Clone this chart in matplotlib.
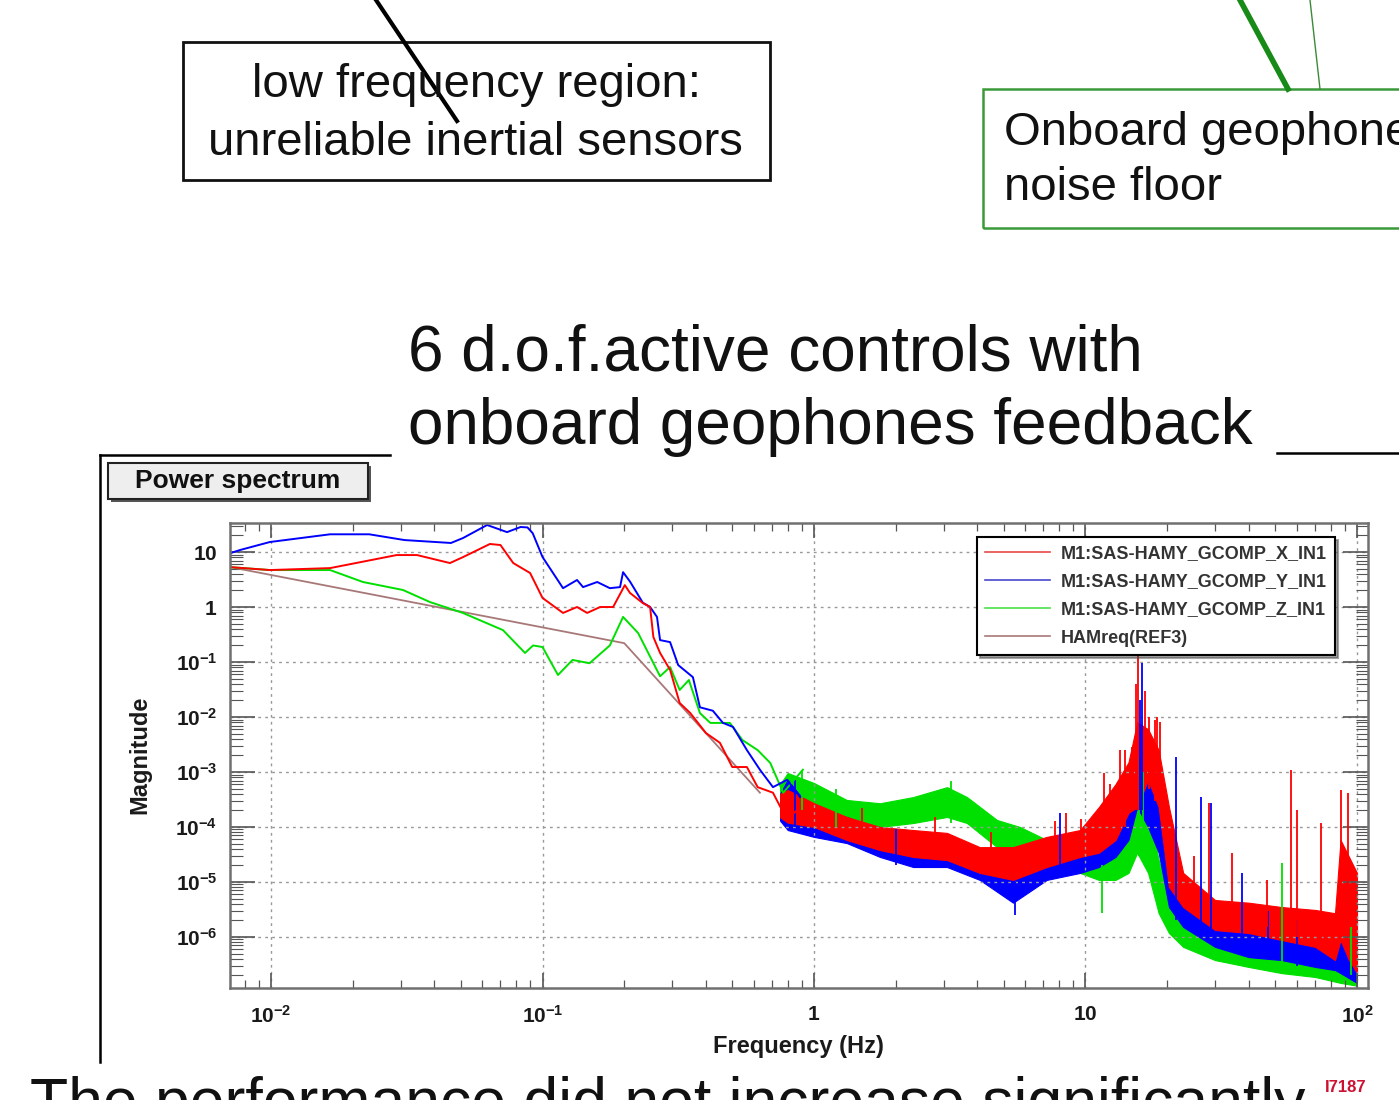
import matplotlib
matplotlib.use("Agg")
import matplotlib.pyplot as plt
from matplotlib.lines import Line2D
from matplotlib.patches import Rectangle

plt.rcParams['font.family'] = ['Liberation Sans', 'DejaVu Sans']
plt.rcParams['mathtext.fontset'] = 'custom'
plt.rcParams['mathtext.rm'] = 'Liberation Sans:bold'
plt.rcParams['mathtext.it'] = 'Liberation Sans:bold:italic'
plt.rcParams['mathtext.bf'] = 'Liberation Sans:bold'

W, H = 1399, 1100

#series names, as in the legend
series_labels = ["M1:SAS-HAMY_GCOMP_X_IN1", "M1:SAS-HAMY_GCOMP_Y_IN1",
                 "M1:SAS-HAMY_GCOMP_Z_IN1", "HAMreq(REF3)"]

#low frequency part (smooth lines), X = red
x_low_f = [0.0071, 0.0099, 0.0165, 0.029, 0.0345, 0.0456, 0.051, 0.064, 0.070, 0.078,
           0.090, 0.100, 0.119, 0.134, 0.146, 0.163, 0.182, 0.201, 0.210, 0.234,
           0.249, 0.256, 0.271, 0.295, 0.32, 0.35, 0.40, 0.45, 0.50, 0.566,
           0.62, 0.706, 0.796, 0.888]
x_low_m = [5.3, 4.7, 5.1, 8.8, 8.8, 6.3, 8.1, 14, 13.4, 6.3,
           4.15, 1.46, 0.78, 1.0, 0.78, 1.0, 1.0, 2.5, 1.8, 1.18,
           1.0, 0.285, 0.146, 0.072, 0.018, 0.0118, 0.0051, 0.0034, 0.00123, 0.00123,
           5.3e-4, 4.2e-4, 1.34e-4, 2.3e-4]

#Y = blue
y_low_f = [0.0071, 0.0077, 0.0099, 0.0165, 0.023, 0.031, 0.046, 0.051, 0.0625, 0.074,
           0.083, 0.088, 0.092, 0.100, 0.119, 0.134, 0.141, 0.159, 0.177, 0.193,
           0.198, 0.210, 0.234, 0.249, 0.264, 0.271, 0.295, 0.316, 0.358, 0.380,
           0.424, 0.462, 0.503, 0.566, 0.632, 0.706, 0.796, 0.888]
y_low_m = [9.6, 10.9, 15.2, 21, 21, 16.5, 14.6, 18, 31, 23,
           28.5, 28, 22, 8.1, 2.2, 3.1, 2.3, 2.85, 2.2, 2.3,
           4.3, 2.9, 1.2, 1.0, 0.66, 0.25, 0.23, 0.088, 0.053, 0.015,
           0.013, 0.0078, 0.0066, 0.0025, 0.0011, 5.3e-4, 7.2e-4, 3.5e-4]

#Z = green
z_low_f = [0.0071, 0.0099, 0.0165, 0.0218, 0.0306, 0.0385, 0.0509, 0.0715, 0.0862, 0.0923,
           0.100, 0.114, 0.129, 0.149, 0.177, 0.198, 0.225, 0.271, 0.295, 0.32,
           0.346, 0.38, 0.415, 0.49, 0.545, 0.62, 0.69, 0.77, 0.91]
z_low_m = [5.3, 4.7, 4.7, 2.85, 2.04, 1.23, 0.78, 0.38, 0.146, 0.2,
           0.187, 0.058, 0.109, 0.095, 0.2, 0.66, 0.336, 0.055, 0.081, 0.031,
           0.047, 0.0118, 0.0078, 0.0078, 0.0038, 0.0025, 0.00146, 4.2e-4, 1.1e-3]

#requirement curve
ref_f = [0.0071, 0.2, 0.632]
ref_m = [5.3, 0.22, 4.2e-4]

#high frequency noise bands (lower / upper envelope)
x_band_f = [0.75, 0.8, 1.0, 1.32, 1.75, 2.32, 3.09, 4.08, 5.41, 7.2,
            9.55, 11.2, 12.9, 14.4, 15.5, 17.0, 18.6, 20.3, 22.9, 30,
            39.9, 52.8, 70.2, 83, 87, 93, 100]
x_band_hi = [4e-4, 4.7e-4, 2.7e-4, 1.52e-4, 1e-4, 8.8e-5, 7.8e-5, 4.3e-5, 4.3e-5, 6.6e-5,
             8.8e-5, 2.3e-4, 6e-4, 1.5e-3, 8e-3, 6e-3, 2.5e-3, 2.3e-4, 1.46e-5, 4.7e-6,
             4.2e-6, 3.5e-6, 3.1e-6, 2.7e-6, 5.8e-5, 3e-5, 1.46e-5]
x_band_lo = [1.5e-4, 1.2e-4, 1e-4, 5.8e-5, 3.8e-5, 2.85e-5, 2.5e-5, 1.46e-5, 1.09e-5, 1.87e-5,
             2.85e-5, 3.4e-5, 5.8e-5, 1.8e-4, 2.3e-4, 7.2e-4, 2.3e-4, 8.1e-6, 3.5e-6, 1.34e-6,
             1.18e-6, 8.8e-7, 6.6e-7, 3.8e-7, 8.8e-7, 4e-7, 2.2e-7]

y_band_f = [0.75, 0.8, 1.0, 1.32, 1.75, 2.32, 3.09, 4.08, 5.41, 7.2,
            9.55, 11.2, 12.9, 14.4, 15.5, 17.0, 18.6, 20.3, 22.9, 30,
            39.9, 52.8, 70.2, 83, 87, 100]
y_band_hi = [4e-4, 7.2e-4, 1.8e-4, 1.52e-4, 8.8e-5, 6.6e-5, 5.8e-5, 3.4e-5, 1.87e-5, 3.4e-5,
             4.3e-5, 5.8e-5, 1e-4, 7.2e-4, 3.8e-3, 9.6e-4, 3.1e-4, 5.8e-5, 4.7e-6, 1.8e-6,
             1.34e-6, 1.18e-6, 1.18e-6, 1.5e-6, 3.5e-6, 2.7e-6]
y_band_lo = [1.3e-4, 8.8e-5, 6.6e-5, 5.1e-5, 2.85e-5, 1.87e-5, 1.87e-5, 1.09e-5, 4.2e-6, 1.09e-5,
             1.46e-5, 1.87e-5, 2.85e-5, 5.8e-5, 2.3e-4, 1e-4, 3.4e-5, 3.5e-6, 1.52e-6, 6.6e-7,
             4.3e-7, 3.8e-7, 2.85e-7, 2.5e-7, 2.2e-7, 1.46e-7]

z_band_f = [0.75, 0.8, 1.0, 1.32, 1.75, 2.32, 3.09, 3.66, 4.72, 5.74,
            7.2, 9.55, 11.2, 12.9, 14.4, 15.5, 17.0, 18.6, 20.3, 22.9,
            30, 39.9, 52.8, 70.2, 87, 100]
z_band_hi = [6e-4, 9.6e-4, 6.3e-4, 3.1e-4, 2.7e-4, 3.5e-4, 5.3e-4, 3.5e-4, 1.34e-4, 1e-4,
             5.8e-5, 3.8e-5, 4.3e-5, 6.6e-5, 2.3e-4, 1e-3, 2.3e-4, 2.5e-5, 6.3e-6, 2e-6,
             1.18e-6, 7.8e-7, 5.8e-7, 5.1e-7, 8.8e-7, 6e-7]
z_band_lo = [2e-4, 2.3e-4, 1.52e-4, 1.18e-4, 1e-4, 1.18e-4, 1.52e-4, 1.18e-4, 4.3e-5, 3.8e-5,
             2.2e-5, 1.46e-5, 1.09e-5, 1.09e-5, 1.46e-5, 3.4e-5, 1.46e-5, 2.7e-6, 1.18e-6, 6.6e-7,
             3.8e-7, 2.85e-7, 2.2e-7, 1.87e-7, 1.46e-7, 1.3e-7]

#narrow lines sticking out of the bands
x_spk_f = [1.5, 2.8, 4.5, 7.7, 8.5, 9.6, 11.7, 12.3, 13.4, 14.0,
           14.8, 15.0, 15.3, 15.6, 16.5, 17.2, 18.0, 18.3, 18.8, 25.0,
           28.5, 34.6, 46.5, 57.0, 60.2, 73.6, 87.5, 92.7]
x_spk_lo = [6e-5, 3e-5, 2e-5, 2e-5, 2.5e-5, 3e-5, 4e-5, 5e-5, 8e-5, 1e-4,
            2e-4, 2e-4, 2e-4, 2e-4, 5e-4, 5e-4, 3e-4, 3e-4, 2e-4, 5e-6,
            3e-6, 2e-6, 1.5e-6, 1e-6, 1e-6, 8e-7, 1e-6, 1e-6]
x_spk_hi = [2.2e-4, 1.5e-4, 8e-5, 1.3e-4, 1.8e-4, 1.4e-4, 9.6e-4, 6e-4, 2.5e-3, 2.5e-3,
            2.9e-3, 2.7e-3, 0.04, 0.2, 0.03, 0.01, 9e-3, 0.01, 8e-3, 3e-5,
            2.7e-4, 3.4e-5, 1.09e-5, 1.09e-3, 2e-4, 1.18e-4, 4.7e-4, 4.2e-4]

y_spk_f = [0.85, 2.0, 5.5, 8.05, 15.9, 16.2, 21.6, 26.7, 29.0, 37.7, 47.0, 60.0]
y_spk_lo = [1e-4, 2e-5, 2.5e-6, 2e-5, 2e-4, 2e-4, 2e-6, 1e-6, 1e-6, 5e-7, 4e-7, 3e-7]
y_spk_hi = [7.2e-4, 9e-5, 1e-5, 1.8e-4, 0.02, 0.095, 1.87e-3, 3.5e-4, 2.7e-4, 1.46e-5, 3e-6, 2e-6]

z_spk_f = [0.9, 1.2, 3.2, 11.5, 15.8, 16.3, 52.8, 95]
z_spk_lo = [2e-4, 1e-4, 1.2e-4, 2.7e-6, 3e-5, 3e-5, 3e-7, 2e-7]
z_spk_hi = [1.09e-3, 5e-4, 7e-4, 2e-5, 1.87e-3, 1e-3, 2.2e-5, 1.5e-6]

x_ticks = [1e-2, 1e-1, 1, 10, 100]
x_tick_labels = [r'$10^{-2}$', r'$10^{-1}$', r'$1$', r'$10$', r'$10^{2}$']
y_ticks = [1e-6, 1e-5, 1e-4, 1e-3, 1e-2, 1e-1, 1, 10]
y_tick_labels = [r'$10^{-6}$', r'$10^{-5}$', r'$10^{-4}$', r'$10^{-3}$', r'$10^{-2}$',
                 r'$10^{-1}$', r'$1$', r'$10$']

RED = '#ff0000'
BLUE = '#0000ff'
GREEN = '#00e000'
BROWN = '#a87878'


#pixel -> figure fraction
def fx(x):
    return x / W

def fy(y):
    return 1 - y / H


fig = plt.figure(figsize=(W / 100, H / 100), dpi=100)
fig.patch.set_facecolor('white')

#---- slide decorations ----
fig.add_artist(Line2D([fx(376), fx(457)], [fy(0), fy(121)], color='black', lw=3))
fig.add_artist(Rectangle((fx(183), fy(180)), fx(770) - fx(183), fy(42) - fy(180),
                         fill=False, ec='#111111', lw=2))
fig.text(fx(476), fy(97), "low frequency region:", ha='center', va='baseline', size=34, color='#111111')
fig.text(fx(475), fy(155), "unreliable inertial sensors", ha='center', va='baseline', size=34, color='#111111')

fig.add_artist(Line2D([fx(1240), fx(1288)], [fy(0), fy(89)], color='#178a17', lw=4))
fig.add_artist(Line2D([fx(1310), fx(1320)], [fy(0), fy(89)], color='#3a8a3a', lw=1))
fig.add_artist(Rectangle((fx(983), fy(228)), fx(1420) - fx(983), fy(89) - fy(228),
                         fill=False, ec='#3a9a3a', lw=1.8))
fig.text(fx(1004), fy(145), "Onboard geophones", ha='left', va='baseline', size=34, color='#111111')
fig.text(fx(1004), fy(200), "noise floor", ha='left', va='baseline', size=34, color='#111111')

fig.text(fx(408), fy(370), "6 d.o.f.active controls with", ha='left', va='baseline', size=46, color='#111111')
fig.text(fx(408), fy(444), "onboard geophones feedback", ha='left', va='baseline', size=46, color='#111111')

#ROOT canvas border
fig.add_artist(Line2D([fx(100), fx(390)], [fy(455), fy(455)], color='black', lw=1.8))
fig.add_artist(Line2D([fx(100), fx(100)], [fy(455), fy(1062)], color='black', lw=1.8))
fig.add_artist(Line2D([fx(1277), fx(1399)], [fy(453), fy(453)], color='black', lw=1.8))

#"Power spectrum" title box with shadow
fig.add_artist(Rectangle((fx(111), fy(502)), fx(368) - fx(108), fy(463) - fy(499),
                         fc='#555555', ec='none'))
fig.add_artist(Rectangle((fx(108), fy(499)), fx(368) - fx(108), fy(463) - fy(499),
                         fc='#eeeeee', ec='#222222', lw=1.5))
fig.text(fx(238), fy(481), "Power spectrum", ha='center', va='center', size=19, weight='bold', color='#111111')

#bottom slide text (cut by the picture edge, as on the slide)
fig.text(fx(30), fy(1122), "The performance did not increase significantly", ha='left', va='baseline',
         size=45, color='#111111')
fig.text(fx(1325), fy(1092), "I7187", ha='left', va='baseline', size=12, weight='bold', color='#cc1133')

#---- the spectrum plot ----
ax = fig.add_axes([fx(230), fy(988), fx(1368) - fx(230), fy(523) - fy(988)])
ax.set_xscale('log')
ax.set_yscale('log')
ax.set_xlim(0.00706, 109.8)
ax.set_ylim(1.18e-7, 33.7)

#noise bands, green under blue under red
ax.fill_between(z_band_f, z_band_lo, z_band_hi, color=GREEN, lw=0.8)
ax.vlines(z_spk_f, z_spk_lo, z_spk_hi, color=GREEN, lw=1.3)
ax.fill_between(y_band_f, y_band_lo, y_band_hi, color=BLUE, lw=0.8)
ax.vlines(y_spk_f, y_spk_lo, y_spk_hi, color=BLUE, lw=1.3)
ax.fill_between(x_band_f, x_band_lo, x_band_hi, color=RED, lw=0.8)
ax.vlines(x_spk_f, x_spk_lo, x_spk_hi, color=RED, lw=1.3)

ax.plot(ref_f, ref_m, color=BROWN, lw=1.3)
ax.plot(z_low_f, z_low_m, color=GREEN, lw=1.4)
ax.plot(y_low_f, y_low_m, color=BLUE, lw=1.4)
ax.plot(x_low_f, x_low_m, color=RED, lw=1.4)

ax.set_xticks(x_ticks)
ax.set_xticklabels(x_tick_labels)
ax.set_yticks(y_ticks)
ax.set_yticklabels(y_tick_labels)
ax.xaxis.set_minor_locator(matplotlib.ticker.LogLocator(base=10, subs=range(2, 10), numticks=20))
ax.yaxis.set_minor_locator(matplotlib.ticker.LogLocator(base=10, subs=range(2, 10), numticks=20))
ax.xaxis.set_minor_formatter(matplotlib.ticker.NullFormatter())
ax.yaxis.set_minor_formatter(matplotlib.ticker.NullFormatter())

ax.tick_params(which='both', direction='in', top=True, right=True, color='#555555', labelcolor='#1a1a1a')
ax.tick_params(axis='x', which='major', length=11, width=1.2, pad=12, labelsize=15)
ax.tick_params(axis='x', which='minor', length=6, width=0.9)
ax.tick_params(axis='y', which='major', length=18, width=1.2, pad=9, labelsize=15)
ax.tick_params(axis='y', which='minor', length=9, width=0.8)

ax.grid(which='major', linestyle=(0, (2, 3)), color='#999999', lw=1)
for s in ax.spines.values():
    s.set_color('#707070')
    s.set_linewidth(1.8)

fig.text(fx(798), fy(1047), "Frequency (Hz)", ha='center', va='center', size=17, weight='bold', color='#1a1a1a')
fig.text(fx(140), fy(755), "Magnitude", ha='center', va='center', size=17, weight='bold',
         rotation=90, color='#1a1a1a')

handles = [Line2D([], [], color=c, lw=1.2) for c in ['#e84848', '#4848d0', '#48e048', BROWN]]
leg = ax.legend(handles, series_labels, loc='upper left', bbox_to_anchor=(fx(977), fy(537)),
                bbox_transform=fig.transFigure, borderaxespad=0, fancybox=False, shadow=True,
                frameon=True, edgecolor='black', facecolor='white', framealpha=1, borderpad=0.45,
                labelspacing=0.62, handlelength=3.6, handletextpad=0.6,
                prop={'weight': 'bold', 'size': 13})
leg.get_frame().set_linewidth(1.5)
for t in leg.get_texts():
    t.set_color('#333333')

fig.savefig('out.png', dpi=100)
